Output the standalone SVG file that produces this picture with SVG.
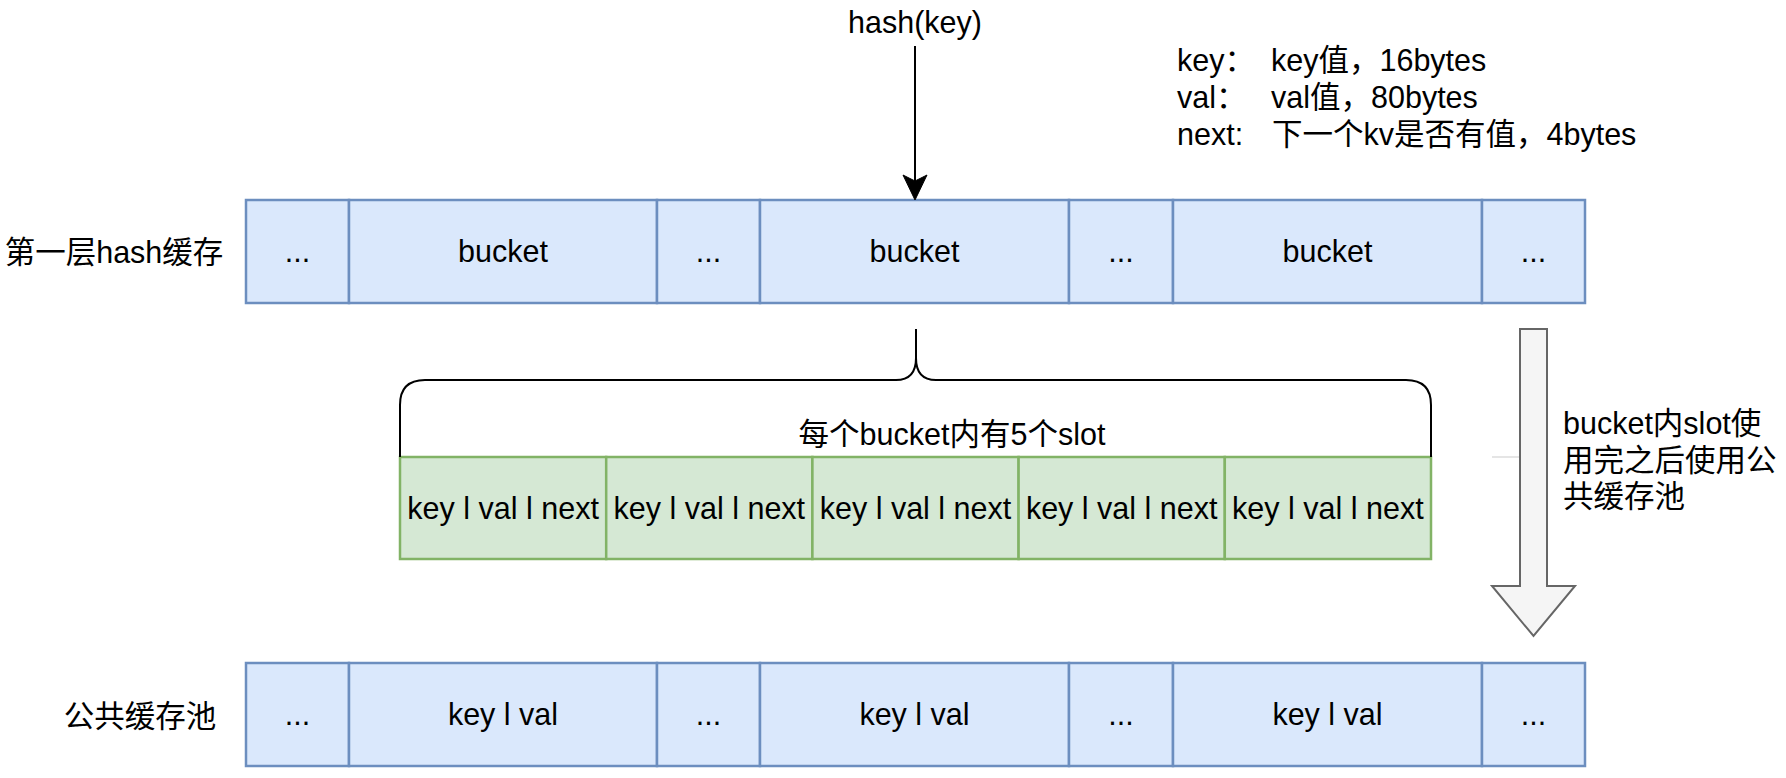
<svg xmlns="http://www.w3.org/2000/svg" width="1786" height="778" viewBox="0 0 1786 778">
<style>
text{font-family:"Liberation Sans","Noto Sans CJK SC",sans-serif;font-size:30.5px;fill:#000}
.c{text-anchor:middle}
.blue{fill:#dae8fc;stroke:#6c8ebf;stroke-width:2.5}
.green{fill:#d5e8d4;stroke:#82b366;stroke-width:2.5}
.edge{fill:none;stroke:#000;stroke-width:2}
</style>
<rect width="1786" height="778" fill="#fff"/>
<g id="hash-label"><text class="c" x="915" y="33">hash(key)</text></g>
<g id="legend">
<text x="1177" y="71">key：<tspan x="1271">key值，16bytes</tspan></text>
<text x="1177" y="108">val：<tspan x="1271">val值，80bytes</tspan></text>
<text x="1177" y="145">next:<tspan x="1272">下一个kv是否有值，4bytes</tspan></text>
</g>
<g id="label-l1"><text class="c" x="114" y="263">第一层hash缓存</text></g>
<g id="hash-row">
<rect class="blue" x="246" y="200" width="103" height="103"/>
<rect class="blue" x="349" y="200" width="308" height="103"/>
<rect class="blue" x="657" y="200" width="103" height="103"/>
<rect class="blue" x="760" y="200" width="309" height="103"/>
<rect class="blue" x="1069" y="200" width="104" height="103"/>
<rect class="blue" x="1173" y="200" width="309" height="103"/>
<rect class="blue" x="1482" y="200" width="103" height="103"/>
<text class="c" x="297.5" y="262">...</text>
<text class="c" x="503" y="262">bucket</text>
<text class="c" x="708.5" y="262">...</text>
<text class="c" x="914.5" y="262">bucket</text>
<text class="c" x="1121" y="262">...</text>
<text class="c" x="1327.5" y="262">bucket</text>
<text class="c" x="1533.5" y="262">...</text>
</g>
<g id="brace-label"><text class="c" x="952" y="445">每个bucket内有5个slot</text></g>
<g id="slots">
<rect class="green" x="400" y="457" width="206.2" height="102"/>
<rect class="green" x="606.2" y="457" width="206.2" height="102"/>
<rect class="green" x="812.4" y="457" width="206.2" height="102"/>
<rect class="green" x="1018.6" y="457" width="206.2" height="102"/>
<rect class="green" x="1224.8" y="457" width="206.2" height="102"/>
<text class="c" x="503.1" y="519">key l val l next</text>
<text class="c" x="709.3" y="519">key l val l next</text>
<text class="c" x="915.5" y="519">key l val l next</text>
<text class="c" x="1121.7" y="519">key l val l next</text>
<text class="c" x="1327.9" y="519">key l val l next</text>
</g>
<g id="label-pool"><text class="c" x="140" y="727">公共缓存池</text></g>
<g id="pool-row">
<rect class="blue" x="246" y="663" width="103" height="103"/>
<rect class="blue" x="349" y="663" width="308" height="103"/>
<rect class="blue" x="657" y="663" width="103" height="103"/>
<rect class="blue" x="760" y="663" width="309" height="103"/>
<rect class="blue" x="1069" y="663" width="104" height="103"/>
<rect class="blue" x="1173" y="663" width="309" height="103"/>
<rect class="blue" x="1482" y="663" width="103" height="103"/>
<text class="c" x="297.5" y="725">...</text>
<text class="c" x="503" y="725">key l val</text>
<text class="c" x="708.5" y="725">...</text>
<text class="c" x="914.5" y="725">key l val</text>
<text class="c" x="1121" y="725">...</text>
<text class="c" x="1327.5" y="725">key l val</text>
<text class="c" x="1533.5" y="725">...</text>
</g>
<g id="overflow-arrow">
<line x1="1492" y1="457" x2="1520" y2="457" stroke="#dddddd" stroke-width="1.5"/>
<polygon points="1520,329 1547,329 1547,586 1575,586 1533.5,636 1492,586 1520,586" fill="#f5f5f5" stroke="#666666" stroke-width="2"/>
<text x="1563" y="434">bucket内slot使</text>
<text x="1563" y="471">用完之后使用公</text>
<text x="1563" y="507">共缓存池</text>
</g>
<g id="connectors">
<line class="edge" x1="915" y1="46" x2="915" y2="185"/>
<path d="M915,200 L903,175 L915,181 L927,175 Z" fill="#000" stroke="#000" stroke-width="1"/>
<path class="edge" d="M400,457 V405 Q400,380 425,380 H896 Q916,380 916,358 V329 M916,358 Q916,380 936,380 H1406 Q1431,380 1431,405 V457"/>
</g>
</svg>
